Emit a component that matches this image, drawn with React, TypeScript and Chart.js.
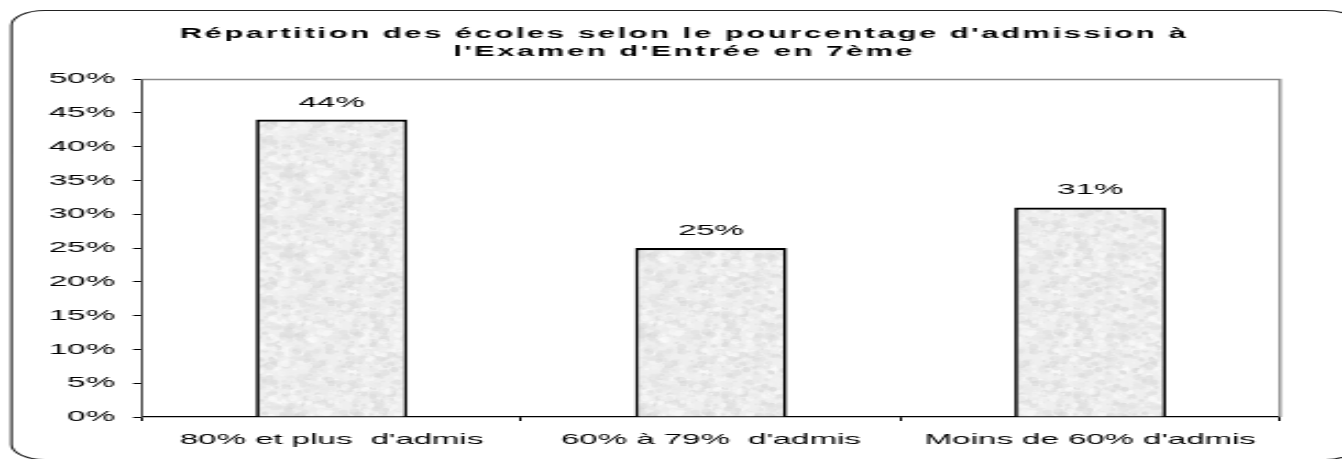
import React, { useEffect, useRef } from 'react';
import { Chart, registerables } from 'chart.js';

Chart.register(...registerables);

// ---- data ----
const categories = ["80% et plus  d'admis", "60% à 79%  d'admis", "Moins de 60% d'admis"];
const values = [44, 25, 31];
const yMin = 0;
const yMax = 50;
const yStep = 5;
const titleLines = ["Répartition des écoles selon le pourcentage d'admission à", "l'Examen d'Entrée en 7ème"];

// ---- layout (internal canvas is stretched horizontally) ----
const STRETCH = 2.2;
const W = 1342 / STRETCH;
const H = 459;
const FONT = '"Liberation Sans", Arial, Helvetica, sans-serif';

function hash(i: number) {
  const x = Math.sin(i * 127.1 + 311.7) * 43758.5453;
  return x - Math.floor(x);
}

function makeTexture(): CanvasPattern | string {
  const size = 80;
  const c = document.createElement('canvas');
  c.width = size;
  c.height = size;
  const g = c.getContext('2d');
  if (!g) return '#ececec';
  g.fillStyle = '#efefef';
  g.fillRect(0, 0, size, size);
  for (let i = 0; i < 900; i++) {
    const x = hash(i) * size;
    const y = hash(i + 5000) * size;
    const r = 0.8 + hash(i + 9000) * 2.6;
    const shade = Math.round(212 + hash(i + 13000) * 43);
    g.fillStyle = `rgba(${shade},${shade},${shade},0.55)`;
    for (const dx of [-size, 0, size]) {
      for (const dy of [-size, 0, size]) {
        g.beginPath();
        g.ellipse(x + dx, y + dy, r * 0.7, r, 0, 0, Math.PI * 2);
        g.fill();
      }
    }
  }
  const p = g.createPattern(c, 'repeat');
  return p || '#ececec';
}

const framePlugin = {
  id: 'framePlugin',
  beforeDraw(chart: any) {
    const ctx = chart.ctx as CanvasRenderingContext2D;
    ctx.save();
    ctx.fillStyle = '#ffffff';
    ctx.fillRect(0, 0, chart.width, chart.height);
    ctx.strokeStyle = '#222222';
    ctx.lineWidth = 1.1;
    ctx.beginPath();
    (ctx as any).roundRect(5.2, 10.5, 612, 449, 15);
    ctx.stroke();
    ctx.fillStyle = '#000000';
    ctx.font = `bold 14px ${FONT}`;
    (ctx as any).letterSpacing = '1.2px';
    ctx.textAlign = 'center';
    ctx.textBaseline = 'alphabetic';
    titleLines.forEach((line, i) => ctx.fillText(line, 311, 38 + i * 18));
    ctx.restore();
  },
  beforeDatasetsDraw(chart: any) {
    const { ctx, chartArea } = chart;
    ctx.save();
    ctx.strokeStyle = '#8a8a8a';
    ctx.lineWidth = 1.3;
    ctx.beginPath();
    ctx.moveTo(chartArea.left, chartArea.top + 0.5);
    ctx.lineTo(chartArea.right, chartArea.top + 0.5);
    ctx.lineTo(chartArea.right, chartArea.bottom);
    ctx.stroke();
    ctx.restore();
  },
  afterDatasetsDraw(chart: any) {
    const ctx = chart.ctx as CanvasRenderingContext2D;
    const meta = chart.getDatasetMeta(0);
    ctx.save();
    ctx.fillStyle = '#000000';
    ctx.font = `15px ${FONT}`;
    ctx.textAlign = 'center';
    ctx.textBaseline = 'alphabetic';
    meta.data.forEach((bar: any, i: number) => {
      ctx.fillText(`${values[i]}%`, bar.x, bar.y - 13);
    });
    ctx.restore();
  },
};

export default function App() {
  const ref = useRef<HTMLCanvasElement | null>(null);

  useEffect(() => {
    if (!ref.current) return;
    const texture = makeTexture();
    const chart = new Chart(ref.current, {
      type: 'bar',
      data: {
        labels: categories,
        datasets: [
          {
            data: values,
            backgroundColor: texture as any,
            borderColor: '#000000',
            borderWidth: { top: 2.2, left: 1.7, right: 1.7, bottom: 0 } as any,
            borderSkipped: 'bottom',
            barPercentage: 0.4,
            categoryPercentage: 1.0,
          },
        ],
      },
      options: {
        animation: false,
        responsive: false,
        maintainAspectRatio: false,
        layout: { padding: { top: 79, left: 0, right: W - 581.8, bottom: 0 } },
        plugins: {
          legend: { display: false },
          title: { display: false },
          tooltip: { enabled: false },
        },
        scales: {
          x: {
            grid: { offset: true, drawOnChartArea: false, drawTicks: true, tickLength: 4, color: '#000000', lineWidth: 1 },
            border: { color: '#000000', width: 1.2 },
            ticks: { padding: 9.4, color: '#000000', font: { family: FONT, size: 15 }, maxRotation: 0, autoSkip: false },
            afterFit: (s: any) => {
              s.height = 42;
            },
          },
          y: {
            min: yMin,
            max: yMax,
            ticks: {
              stepSize: yStep,
              padding: 8.2,
              color: '#000000',
              font: { family: FONT, size: 15 },
              callback: (v: any) => `${v}%`,
            },
            grid: { drawOnChartArea: false, drawTicks: true, tickLength: 4, color: '#000000', lineWidth: 1 },
            border: { color: '#444444', width: 1 },
            afterFit: (s: any) => {
              s.width = 64.5;
            },
          },
        },
      },
      plugins: [framePlugin],
    });
    return () => chart.destroy();
  }, []);

  return (
    <div style={{ position: 'fixed', left: 0, top: 0, width: 1342, height: 459, overflow: 'hidden', background: '#fff' }}>
      <div style={{ transform: `scaleX(${STRETCH})`, transformOrigin: '0 0', width: W, height: H }}>
        <canvas ref={ref} width={Math.round(W)} height={H} />
      </div>
    </div>
  );
}
